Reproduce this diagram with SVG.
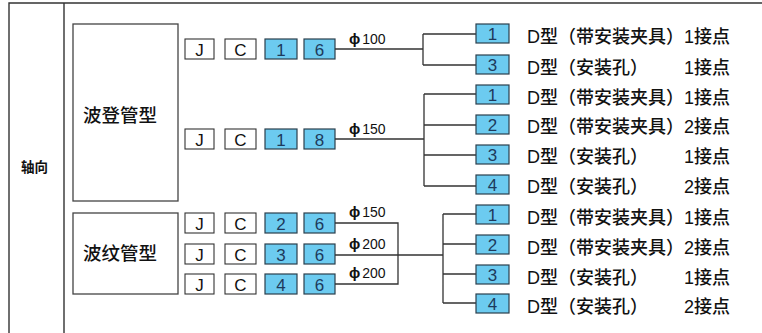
<svg xmlns="http://www.w3.org/2000/svg" width="762" height="333" viewBox="0 0 762 333">
<style>
.frame{fill:none;stroke:#333;stroke-width:1.4}
.box{fill:#fff;stroke:#444;stroke-width:1.3}
.wbox{fill:#fff;stroke:#333;stroke-width:1.1}
.bbox{fill:#6ccbf0;stroke:#2b3f4c;stroke-width:1.2}
.wl{font-family:"Liberation Sans",Arial,sans-serif;font-size:17px;fill:#111;text-anchor:middle}
.bl{font-family:"Liberation Sans",Arial,sans-serif;font-size:17px;fill:#1d3a5c;text-anchor:middle}
.cjk{font-family:"Liberation Sans","Noto Sans CJK SC",sans-serif;fill:#111;font-weight:500}
.axis{font-family:"Noto Sans CJK SC",sans-serif;fill:#111;font-weight:bold;font-size:13.5px}
.desc{font-size:18px}
.dia{font-family:"Liberation Sans","DejaVu Sans",sans-serif;font-size:14px;fill:#111}
.phi{font-weight:bold;font-size:15px}
.ln{fill:none;stroke:#333;stroke-width:1.3}
</style>
<rect width="762" height="333" fill="#fff"/>
<g id="frame">
<path class="frame" d="M9,333 V3 H762 M64,3 V333"/>
<text class="axis" x="21" y="172">轴向</text>
</g>
<g id="bourdon">
<rect class="box" x="73" y="24" width="105" height="177"/>
<text class="cjk" x="83" y="122" font-size="18.5">波登管型</text>
</g>
<g id="bellows">
<rect class="box" x="73" y="213" width="105" height="81"/>
<text class="cjk" x="83" y="260" font-size="18.5">波纹管型</text>
</g>
<g id="code-row1">
<rect class="wbox" x="185" y="39" width="29" height="20"/><text class="wl" x="199.5" y="55.5">J</text>
<rect class="wbox" x="225" y="39" width="31" height="20"/><text class="wl" x="240.5" y="55.5">C</text>
<rect class="bbox" x="265" y="39" width="32" height="20"/><text class="bl" x="281" y="55.5">1</text>
<rect class="bbox" x="304" y="39" width="31" height="20"/><text class="bl" x="319.5" y="55.5">6</text>
</g>
<g id="code-row2">
<rect class="wbox" x="185" y="129" width="29" height="20"/><text class="wl" x="199.5" y="145.5">J</text>
<rect class="wbox" x="225" y="129" width="31" height="20"/><text class="wl" x="240.5" y="145.5">C</text>
<rect class="bbox" x="265" y="129" width="32" height="20"/><text class="bl" x="281" y="145.5">1</text>
<rect class="bbox" x="304" y="129" width="31" height="20"/><text class="bl" x="319.5" y="145.5">8</text>
</g>
<g id="code-row3">
<rect class="wbox" x="185" y="213" width="29" height="20"/><text class="wl" x="199.5" y="229.5">J</text>
<rect class="wbox" x="225" y="213" width="31" height="20"/><text class="wl" x="240.5" y="229.5">C</text>
<rect class="bbox" x="265" y="213" width="32" height="20"/><text class="bl" x="281" y="229.5">2</text>
<rect class="bbox" x="304" y="213" width="31" height="20"/><text class="bl" x="319.5" y="229.5">6</text>
</g>
<g id="code-row4">
<rect class="wbox" x="185" y="244" width="29" height="20"/><text class="wl" x="199.5" y="260.5">J</text>
<rect class="wbox" x="225" y="244" width="31" height="20"/><text class="wl" x="240.5" y="260.5">C</text>
<rect class="bbox" x="265" y="244" width="32" height="20"/><text class="bl" x="281" y="260.5">3</text>
<rect class="bbox" x="304" y="244" width="31" height="20"/><text class="bl" x="319.5" y="260.5">6</text>
</g>
<g id="code-row5">
<rect class="wbox" x="185" y="274" width="29" height="20"/><text class="wl" x="199.5" y="290.5">J</text>
<rect class="wbox" x="225" y="274" width="31" height="20"/><text class="wl" x="240.5" y="290.5">C</text>
<rect class="bbox" x="265" y="274" width="32" height="20"/><text class="bl" x="281" y="290.5">4</text>
<rect class="bbox" x="304" y="274" width="31" height="20"/><text class="bl" x="319.5" y="290.5">6</text>
</g>
<g id="connectors">
<path class="ln" d="M335,49 H423 M423,34 V65 M423,34 H476 M423,65 H476"/>
<path class="ln" d="M335,139 H424 M424,94 V186 M424,94 H476 M424,125 H476 M424,155 H476 M424,186 H476"/>
<path class="ln" d="M335,223 H398 V284 H335 M335,255 H443 M443,214 V303 M443,214 H476 M443,244 H476 M443,274 H476 M443,303 H476"/>
<text class="dia" x="349" y="44"><tspan class="phi">ϕ</tspan><tspan dx="2">100</tspan></text>
<text class="dia" x="349" y="134"><tspan class="phi">ϕ</tspan><tspan dx="2">150</tspan></text>
<text class="dia" x="349" y="217"><tspan class="phi">ϕ</tspan><tspan dx="2">150</tspan></text>
<text class="dia" x="349" y="249"><tspan class="phi">ϕ</tspan><tspan dx="2">200</tspan></text>
<text class="dia" x="349" y="278"><tspan class="phi">ϕ</tspan><tspan dx="2">200</tspan></text>
</g>
<g id="out-g1-1"><rect class="bbox" x="476" y="24" width="33" height="19"/><text class="bl" x="492.5" y="39.5">1</text>
<text class="cjk desc" x="527" y="43">D型（带安装夹具）</text><text class="cjk desc" x="730" y="43" text-anchor="end">1接点</text></g>
<g id="out-g1-3"><rect class="bbox" x="476" y="55" width="33" height="19"/><text class="bl" x="492.5" y="70.5">3</text>
<text class="cjk desc" x="527" y="74">D型（安装孔）</text><text class="cjk desc" x="730" y="74" text-anchor="end">1接点</text></g>
<g id="out-g2-1"><rect class="bbox" x="476" y="85" width="33" height="19"/><text class="bl" x="492.5" y="100.5">1</text>
<text class="cjk desc" x="527" y="104">D型（带安装夹具）</text><text class="cjk desc" x="730" y="104" text-anchor="end">1接点</text></g>
<g id="out-g2-2"><rect class="bbox" x="476" y="115" width="33" height="19"/><text class="bl" x="492.5" y="130.5">2</text>
<text class="cjk desc" x="527" y="133">D型（带安装夹具）</text><text class="cjk desc" x="730" y="133" text-anchor="end">2接点</text></g>
<g id="out-g2-3"><rect class="bbox" x="476" y="145" width="33" height="19"/><text class="bl" x="492.5" y="160.5">3</text>
<text class="cjk desc" x="527" y="163">D型（安装孔）</text><text class="cjk desc" x="730" y="163" text-anchor="end">1接点</text></g>
<g id="out-g2-4"><rect class="bbox" x="476" y="175" width="33" height="19"/><text class="bl" x="492.5" y="190.5">4</text>
<text class="cjk desc" x="527" y="193">D型（安装孔）</text><text class="cjk desc" x="730" y="193" text-anchor="end">2接点</text></g>
<g id="out-g3-1"><rect class="bbox" x="476" y="205" width="33" height="19"/><text class="bl" x="492.5" y="220.5">1</text>
<text class="cjk desc" x="527" y="224">D型（带安装夹具）</text><text class="cjk desc" x="730" y="224" text-anchor="end">1接点</text></g>
<g id="out-g3-2"><rect class="bbox" x="476" y="235" width="33" height="19"/><text class="bl" x="492.5" y="250.5">2</text>
<text class="cjk desc" x="527" y="254">D型（带安装夹具）</text><text class="cjk desc" x="730" y="254" text-anchor="end">2接点</text></g>
<g id="out-g3-3"><rect class="bbox" x="476" y="265" width="33" height="19"/><text class="bl" x="492.5" y="280.5">3</text>
<text class="cjk desc" x="527" y="284">D型（安装孔）</text><text class="cjk desc" x="730" y="284" text-anchor="end">1接点</text></g>
<g id="out-g3-4"><rect class="bbox" x="476" y="294" width="33" height="19"/><text class="bl" x="492.5" y="309.5">4</text>
<text class="cjk desc" x="527" y="313">D型（安装孔）</text><text class="cjk desc" x="730" y="313" text-anchor="end">2接点</text></g>
</svg>
